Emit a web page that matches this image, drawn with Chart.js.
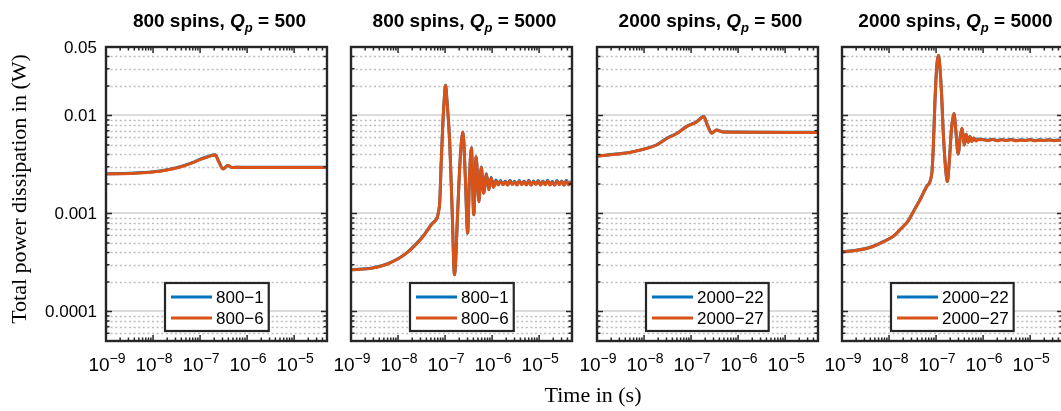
<!DOCTYPE html>
<html>
<head>
<meta charset="utf-8">
<title>Total power dissipation</title>
<script src="https://cdn.jsdelivr.net/npm/chart.js@4.4.0/dist/chart.umd.min.js"></script>
<style>
  body{margin:0;background:#fff;}
  #fig{position:relative;width:1061px;height:411px;overflow:hidden;background:#fff;}
  #fig canvas{position:absolute;left:0;top:0;}
</style>
</head>
<body>
<div id="fig">
  <canvas id="graphicFirst" width="1070" height="411"></canvas>
  <canvas id="graphicSecond" width="1070" height="411"></canvas>
  <canvas id="graphicThird" width="1070" height="411"></canvas>
  <canvas id="graphicFourth" width="1070" height="411"></canvas>
</div>
<script>
// Total power dissipation vs time, 4 panels (log-log)

//---DATA (time given as log10 exponent, power in W)
const logTime1 = [-9, -8.5, -8, -7.7, -7.4, -7.15, -7, -6.85, -6.68, -6.6, -6.51, -6.41, -6.32, -6.2, -6, -5, -4.3];
const power1_1 = [2.54e-3, 2.57e-3, 2.66e-3, 2.80e-3, 3.03e-3, 3.33e-3, 3.58e-3, 3.79e-3, 3.98e-3, 3.37e-3, 2.86e-3, 3.09e-3, 2.95e-3, 2.97e-3, 2.96e-3, 2.96e-3, 2.96e-3];
const power1_6 = [2.53e-3, 2.56e-3, 2.65e-3, 2.78e-3, 3.00e-3, 3.30e-3, 3.55e-3, 3.75e-3, 3.95e-3, 3.35e-3, 2.84e-3, 3.08e-3, 2.94e-3, 2.96e-3, 2.95e-3, 2.95e-3, 2.95e-3];

const logTime2 = [-9, -8.55, -8.19, -7.83, -7.47, -7.26, -7.12, -7.08, -7.05, -7.02, -6.99, -6.96, -6.9, -6.85, -6.8,
  -6.73, -6.68, -6.62, -6.57, -6.52, -6.48, -6.44, -6.39, -6.34, -6.28, -6.23, -6.18, -6.12, -6.07, -6.02, -5.97, -5.92,
  -5.87, -5.82, -5.77, -5.72, -5.67, -5.62, -5.57, -5.52, -5.47, -5.42, -5.37, -5.32, -5.27, -5.22, -5.17, -5.12,
  -5.07, -5.02, -4.97, -4.92, -4.87, -4.82, -4.77, -4.72, -4.67, -4.62, -4.57, -4.52, -4.47, -4.42, -4.37, -4.32];
const power2_1 = [2.67e-4, 2.78e-4, 3.12e-4, 3.92e-4, 5.85e-4, 8.05e-4, 1.19e-3, 3.5e-3, 7.7e-3, 1.4e-2, 2.04e-2, 1.43e-2, 5.2e-3, 1.09e-3, 2.37e-4,
  1.09e-3, 3.5e-3, 6.8e-3, 2.4e-3, 6.3e-4, 2.4e-3, 4.7e-3, 9.7e-4, 3.8e-3, 1.32e-3, 2.98e-3, 1.61e-3, 2.55e-3, 1.75e-3, 2.34e-3, 1.85e-3, 2.2e-3,
  1.97e-3, 2.17e-3, 1.98e-3, 2.14e-3, 1.96e-3, 2.18e-3, 1.99e-3, 2.13e-3, 1.96e-3, 2.17e-3, 1.98e-3, 2.15e-3, 1.97e-3, 2.19e-3, 1.96e-3, 2.14e-3,
  1.99e-3, 2.17e-3, 1.96e-3, 2.15e-3, 1.98e-3, 2.18e-3, 1.97e-3, 2.13e-3, 1.96e-3, 2.17e-3, 1.99e-3, 2.15e-3, 1.96e-3, 2.18e-3, 1.97e-3, 2.14e-3];
const power2_6 = [2.66e-4, 2.77e-4, 3.1e-4, 3.9e-4, 5.8e-4, 8.0e-4, 1.18e-3, 3.5e-3, 7.7e-3, 1.4e-2, 2.04e-2, 1.43e-2, 5.2e-3, 1.09e-3, 2.37e-4,
  1.09e-3, 3.5e-3, 6.8e-3, 2.4e-3, 6.3e-4, 2.4e-3, 4.7e-3, 9.7e-4, 3.8e-3, 1.32e-3, 2.96e-3, 1.61e-3, 2.5e-3, 1.75e-3, 2.3e-3, 1.85e-3, 2.15e-3,
  1.95e-3, 2.13e-3, 1.97e-3, 2.11e-3, 1.94e-3, 2.14e-3, 1.98e-3, 2.1e-3, 1.95e-3, 2.13e-3, 1.97e-3, 2.12e-3, 1.95e-3, 2.14e-3, 1.94e-3, 2.11e-3,
  1.98e-3, 2.13e-3, 1.94e-3, 2.12e-3, 1.96e-3, 2.14e-3, 1.95e-3, 2.1e-3, 1.94e-3, 2.13e-3, 1.97e-3, 2.12e-3, 1.94e-3, 2.14e-3, 1.96e-3, 2.11e-3];

const logTime3 = [-9, -8.45, -8.23, -7.95, -7.73, -7.52, -7.3, -7.1, -6.88, -6.73, -6.65, -6.56, -6.46, -6.32, -6, -5, -4.3];
const power3_22 = [3.86e-3, 4.11e-3, 4.28e-3, 4.62e-3, 5.03e-3, 5.84e-3, 6.6e-3, 7.7e-3, 8.65e-3, 9.75e-3, 7.95e-3, 6.62e-3, 7.12e-3, 6.79e-3, 6.77e-3, 6.74e-3, 6.74e-3];
const power3_27 = [3.85e-3, 4.1e-3, 4.27e-3, 4.6e-3, 5.0e-3, 5.8e-3, 6.56e-3, 7.66e-3, 8.6e-3, 9.7e-3, 7.9e-3, 6.6e-3, 7.1e-3, 6.77e-3, 6.75e-3, 6.72e-3, 6.72e-3];

const logTime4 = [-9, -8.7, -8.4, -8.1, -7.9, -7.77, -7.6, -7.48, -7.35, -7.2, -7.09, -7.06, -7.02, -6.98, -6.95, -6.92, -6.88, -6.85, -6.8,
  -6.76, -6.72, -6.67, -6.62, -6.58, -6.53, -6.49, -6.45, -6.42, -6.4, -6.36, -6.32, -6.28, -6.24, -6.2, -6.15, -6.1,
  -6.0, -5.9, -5.8, -5.7, -5.6, -5.5, -5.4, -5.3, -5.2, -5.1, -5.0, -4.9, -4.8, -4.7, -4.6, -4.5, -4.4, -4.3];
const power4_22 = [4.07e-4, 4.21e-4, 4.52e-4, 5.22e-4, 5.92e-4, 6.82e-4, 8.33e-4, 1.05e-3, 1.36e-3, 1.89e-3, 2.58e-3, 4.6e-3, 1.55e-2, 3.4e-2, 4.1e-2, 3.2e-2, 1.55e-2, 7.1e-3, 3.0e-3,
  2.12e-3, 3.3e-3, 7.5e-3, 1.05e-2, 7.0e-3, 4.04e-3, 5.8e-3, 7.4e-3, 6.0e-3, 5.0e-3, 6.45e-3, 5.35e-3, 6.1e-3, 5.45e-3, 5.9e-3, 5.6e-3, 5.75e-3,
  5.7e-3, 5.6e-3, 5.72e-3, 5.58e-3, 5.68e-3, 5.6e-3, 5.7e-3, 5.56e-3, 5.66e-3, 5.6e-3, 5.68e-3, 5.56e-3, 5.65e-3, 5.6e-3, 5.67e-3, 5.56e-3, 5.63e-3, 5.6e-3];
const power4_27 = [4.06e-4, 4.2e-4, 4.5e-4, 5.2e-4, 5.9e-4, 6.8e-4, 8.3e-4, 1.05e-3, 1.35e-3, 1.88e-3, 2.57e-3, 4.6e-3, 1.55e-2, 3.4e-2, 4.1e-2, 3.2e-2, 1.55e-2, 7.1e-3, 3.0e-3,
  2.12e-3, 3.3e-3, 7.5e-3, 1.05e-2, 7.0e-3, 4.04e-3, 5.8e-3, 7.4e-3, 6.0e-3, 5.0e-3, 6.45e-3, 5.3e-3, 6.1e-3, 5.4e-3, 5.9e-3, 5.5e-3, 5.7e-3,
  5.65e-3, 5.55e-3, 5.68e-3, 5.52e-3, 5.64e-3, 5.55e-3, 5.66e-3, 5.52e-3, 5.6e-3, 5.55e-3, 5.64e-3, 5.52e-3, 5.6e-3, 5.55e-3, 5.62e-3, 5.52e-3, 5.58e-3, 5.55e-3];

//---LABELS
const legendNames = [['800\u22121', '800\u22126'], ['800\u22121', '800\u22126'], ['2000\u221222', '2000\u221227'], ['2000\u221222', '2000\u221227']];
const panelSpins = ['800 spins, ', '800 spins, ', '2000 spins, ', '2000 spins, '];
const panelQp = [' = 500', ' = 5000', ' = 500', ' = 5000'];
const xTicks = [1e-9, 1e-8, 1e-7, 1e-6, 1e-5];
const xTickExp = ['\u22129', '\u22128', '\u22127', '\u22126', '\u22125'];
const yTicks = [0.05, 0.01, 0.001, 0.0001];
const yTickLabels = ['0.05', '0.01', '0.001', '0.0001'];
const xRange = [1e-9, 5e-5];
const yRange = [5e-5, 0.05];

//---STYLE
const canvasW = 1070;
const panelLeft = [106, 351, 597, 842];
const panelW = 221;
const padTop = 47;
const padBottom = 70;
const blueColor = '#0072BD';
const orangeColor = '#D95319';
const axisColor = '#262626';
const sans = '"Liberation Sans", Arial, Helvetica, sans-serif';
const serif = '"Liberation Serif", "Times New Roman", serif';

// minor values between decades (2..9 x 10^n) inside a range
function minorValues(lo, hi){
  let out = [];
  for (let e = Math.floor(Math.log10(lo)); e <= Math.ceil(Math.log10(hi)); e++){
    for (let m = 2; m <= 9; m++){
      let v = m * Math.pow(10, e);
      if (v > lo * 1.0001 && v < hi * 0.9999) out.push(v);
    }
  }
  return out;
}

function drawSegments(ctx, segs, cx, baseY){
  let total = 0;
  segs.forEach(s => { ctx.font = s.font; s.w = ctx.measureText(s.text).width; total += s.w; });
  let x = cx - total / 2;
  ctx.textAlign = 'left';
  ctx.textBaseline = 'alphabetic';
  segs.forEach(s => {
    ctx.font = s.font;
    ctx.fillText(s.text, x, baseY + s.dy);
    x += s.w;
  });
}

const framePlugin = {
  id: 'frame',
  beforeDatasetsDraw(chart, args, opts){
    const {ctx, chartArea: a, scales: {y}} = chart;
    ctx.save();
    //---MINOR GRID (dotted)
    ctx.strokeStyle = '#bdbdbd';
    ctx.lineWidth = 1.5;
    ctx.setLineDash([2, 2.6]);
    minorValues(yRange[0], yRange[1]).forEach(v => {
      const py = Math.round(y.getPixelForValue(v)) + 0.5;
      ctx.beginPath(); ctx.moveTo(a.left, py); ctx.lineTo(a.right, py); ctx.stroke();
    });
    //---MAJOR GRID
    ctx.setLineDash([]);
    ctx.strokeStyle = '#dcdcdc';
    ctx.lineWidth = 2;
    [1e-4, 1e-3, 1e-2].forEach(v => {
      const py = Math.round(y.getPixelForValue(v));
      ctx.beginPath(); ctx.moveTo(a.left, py); ctx.lineTo(a.right, py); ctx.stroke();
    });
    ctx.restore();
  },
  afterDatasetsDraw(chart, args, opts){
    const {ctx, chartArea: a, scales: {x, y}} = chart;
    ctx.save();
    ctx.strokeStyle = axisColor;
    //---TICKS (inside, all four sides)
    ctx.lineWidth = 1.5;
    const tick = (px, py, dx, dy) => { ctx.beginPath(); ctx.moveTo(px, py); ctx.lineTo(px + dx, py + dy); ctx.stroke(); };
    yTicks.forEach(v => { const py = y.getPixelForValue(v); tick(a.left, py, 6, 0); tick(a.right, py, -6, 0); });
    minorValues(yRange[0], yRange[1]).forEach(v => { const py = y.getPixelForValue(v); tick(a.left, py, 3.5, 0); tick(a.right, py, -3.5, 0); });
    xTicks.forEach(v => { const px = x.getPixelForValue(v); tick(px, a.bottom, 0, -6); tick(px, a.top, 0, 6); });
    minorValues(xRange[0], xRange[1]).forEach(v => { const px = x.getPixelForValue(v); tick(px, a.bottom, 0, -3.5); tick(px, a.top, 0, 3.5); });
    //---BOX
    ctx.lineWidth = 2.4;
    ctx.strokeRect(a.left, a.top, a.right - a.left, a.bottom - a.top);
    ctx.restore();
  },
  afterDraw(chart, args, opts){
    const {ctx, chartArea: a, scales: {x, y}} = chart;
    const cx = (a.left + a.right) / 2;
    ctx.save();
    ctx.fillStyle = '#000';
    //---X TICK LABELS
    xTicks.forEach((v, i) => {
      drawSegments(ctx, [
        {text: '10', font: '19px ' + sans, dy: 0},
        {text: xTickExp[i], font: '14px ' + sans, dy: -8}
      ], x.getPixelForValue(v) + 1, a.bottom + 30);
    });
    //---Y TICK LABELS (first panel only)
    if (opts.showY){
      ctx.font = '17px ' + sans;
      ctx.textAlign = 'right';
      ctx.textBaseline = 'middle';
      yTicks.forEach((v, i) => ctx.fillText(yTickLabels[i], a.left - 9, y.getPixelForValue(v) + 1));
    }
    //---TITLE
    drawSegments(ctx, [
      {text: panelSpins[opts.panel], font: 'bold 19px ' + sans, dy: 0},
      {text: 'Q', font: 'italic bold 19px ' + sans, dy: 0},
      {text: 'p', font: 'italic bold 13px ' + sans, dy: 5},
      {text: panelQp[opts.panel], font: 'bold 19px ' + sans, dy: 0}
    ], cx + 3, 27);
    //---LEGEND
    ctx.font = '17px ' + sans;
    const names = chart.data.datasets.map(d => d.label);
    const textW = Math.max(...names.map(n => ctx.measureText(n).width));
    const boxW = 6 + 41 + 4 + textW + 5;
    const boxH = 48;
    const bx = Math.round(cx - boxW / 2);
    const by = a.bottom - 10 - boxH;
    ctx.fillStyle = '#fff';
    ctx.fillRect(bx, by, boxW, boxH);
    chart.data.datasets.forEach((d, i) => {
      const ry = by + 14 + i * 21;
      ctx.strokeStyle = d.borderColor;
      ctx.lineWidth = 3;
      ctx.beginPath(); ctx.moveTo(bx + 6, ry); ctx.lineTo(bx + 47, ry); ctx.stroke();
      ctx.fillStyle = '#000';
      ctx.textAlign = 'left';
      ctx.textBaseline = 'middle';
      ctx.fillText(d.label, bx + 51, ry + 1);
    });
    ctx.strokeStyle = axisColor;
    ctx.lineWidth = 2.2;
    ctx.strokeRect(bx, by, boxW, boxH);
    //---FIGURE AXIS LABELS
    if (opts.showY){
      ctx.fillStyle = '#000';
      ctx.font = '22px ' + serif;
      ctx.textAlign = 'center';
      ctx.textBaseline = 'middle';
      ctx.fillText('Time in (s)', 593, 396);
      ctx.save();
      ctx.translate(20, 189);
      ctx.rotate(-Math.PI / 2);
      ctx.fillText('Total power dissipation in (W)', 0, 0);
      ctx.restore();
    }
    ctx.restore();
  }
};

function toPoints(logTime, values){
  return logTime.map((e, i) => ({x: Math.pow(10, e), y: values[i]}));
}

//-----GRAPHIC
function drawPanel(id, idx, logTime, seriesA, seriesB){
  const ctx = document.getElementById(id).getContext('2d');
  const left = panelLeft[idx];
  return new Chart(ctx, {
    type: 'line',
    data: {
      datasets: [
        {label: legendNames[idx][0], data: toPoints(logTime, seriesA), borderColor: blueColor, order: 1},
        {label: legendNames[idx][1], data: toPoints(logTime, seriesB), borderColor: orangeColor, order: 0}
      ]
    },
    options: {
      responsive: false,
      animation: false,
      devicePixelRatio: 1,
      parsing: false,
      layout: {padding: {left: left, right: canvasW - left - panelW, top: padTop, bottom: padBottom}},
      elements: {
        point: {radius: 0},
        line: {borderWidth: 3, cubicInterpolationMode: 'monotone', fill: false}
      },
      plugins: {
        legend: {display: false},
        tooltip: {enabled: false},
        frame: {panel: idx, showY: idx === 0}
      },
      scales: {
        x: {type: 'logarithmic', min: xRange[0], max: xRange[1], display: false},
        y: {type: 'logarithmic', min: yRange[0], max: yRange[1], display: false}
      }
    },
    plugins: [framePlugin]
  });
}

let chart1 = drawPanel('graphicFirst', 0, logTime1, power1_1, power1_6);
let chart2 = drawPanel('graphicSecond', 1, logTime2, power2_1, power2_6);
let chart3 = drawPanel('graphicThird', 2, logTime3, power3_22, power3_27);
let chart4 = drawPanel('graphicFourth', 3, logTime4, power4_22, power4_27);
</script>
</body>
</html>
